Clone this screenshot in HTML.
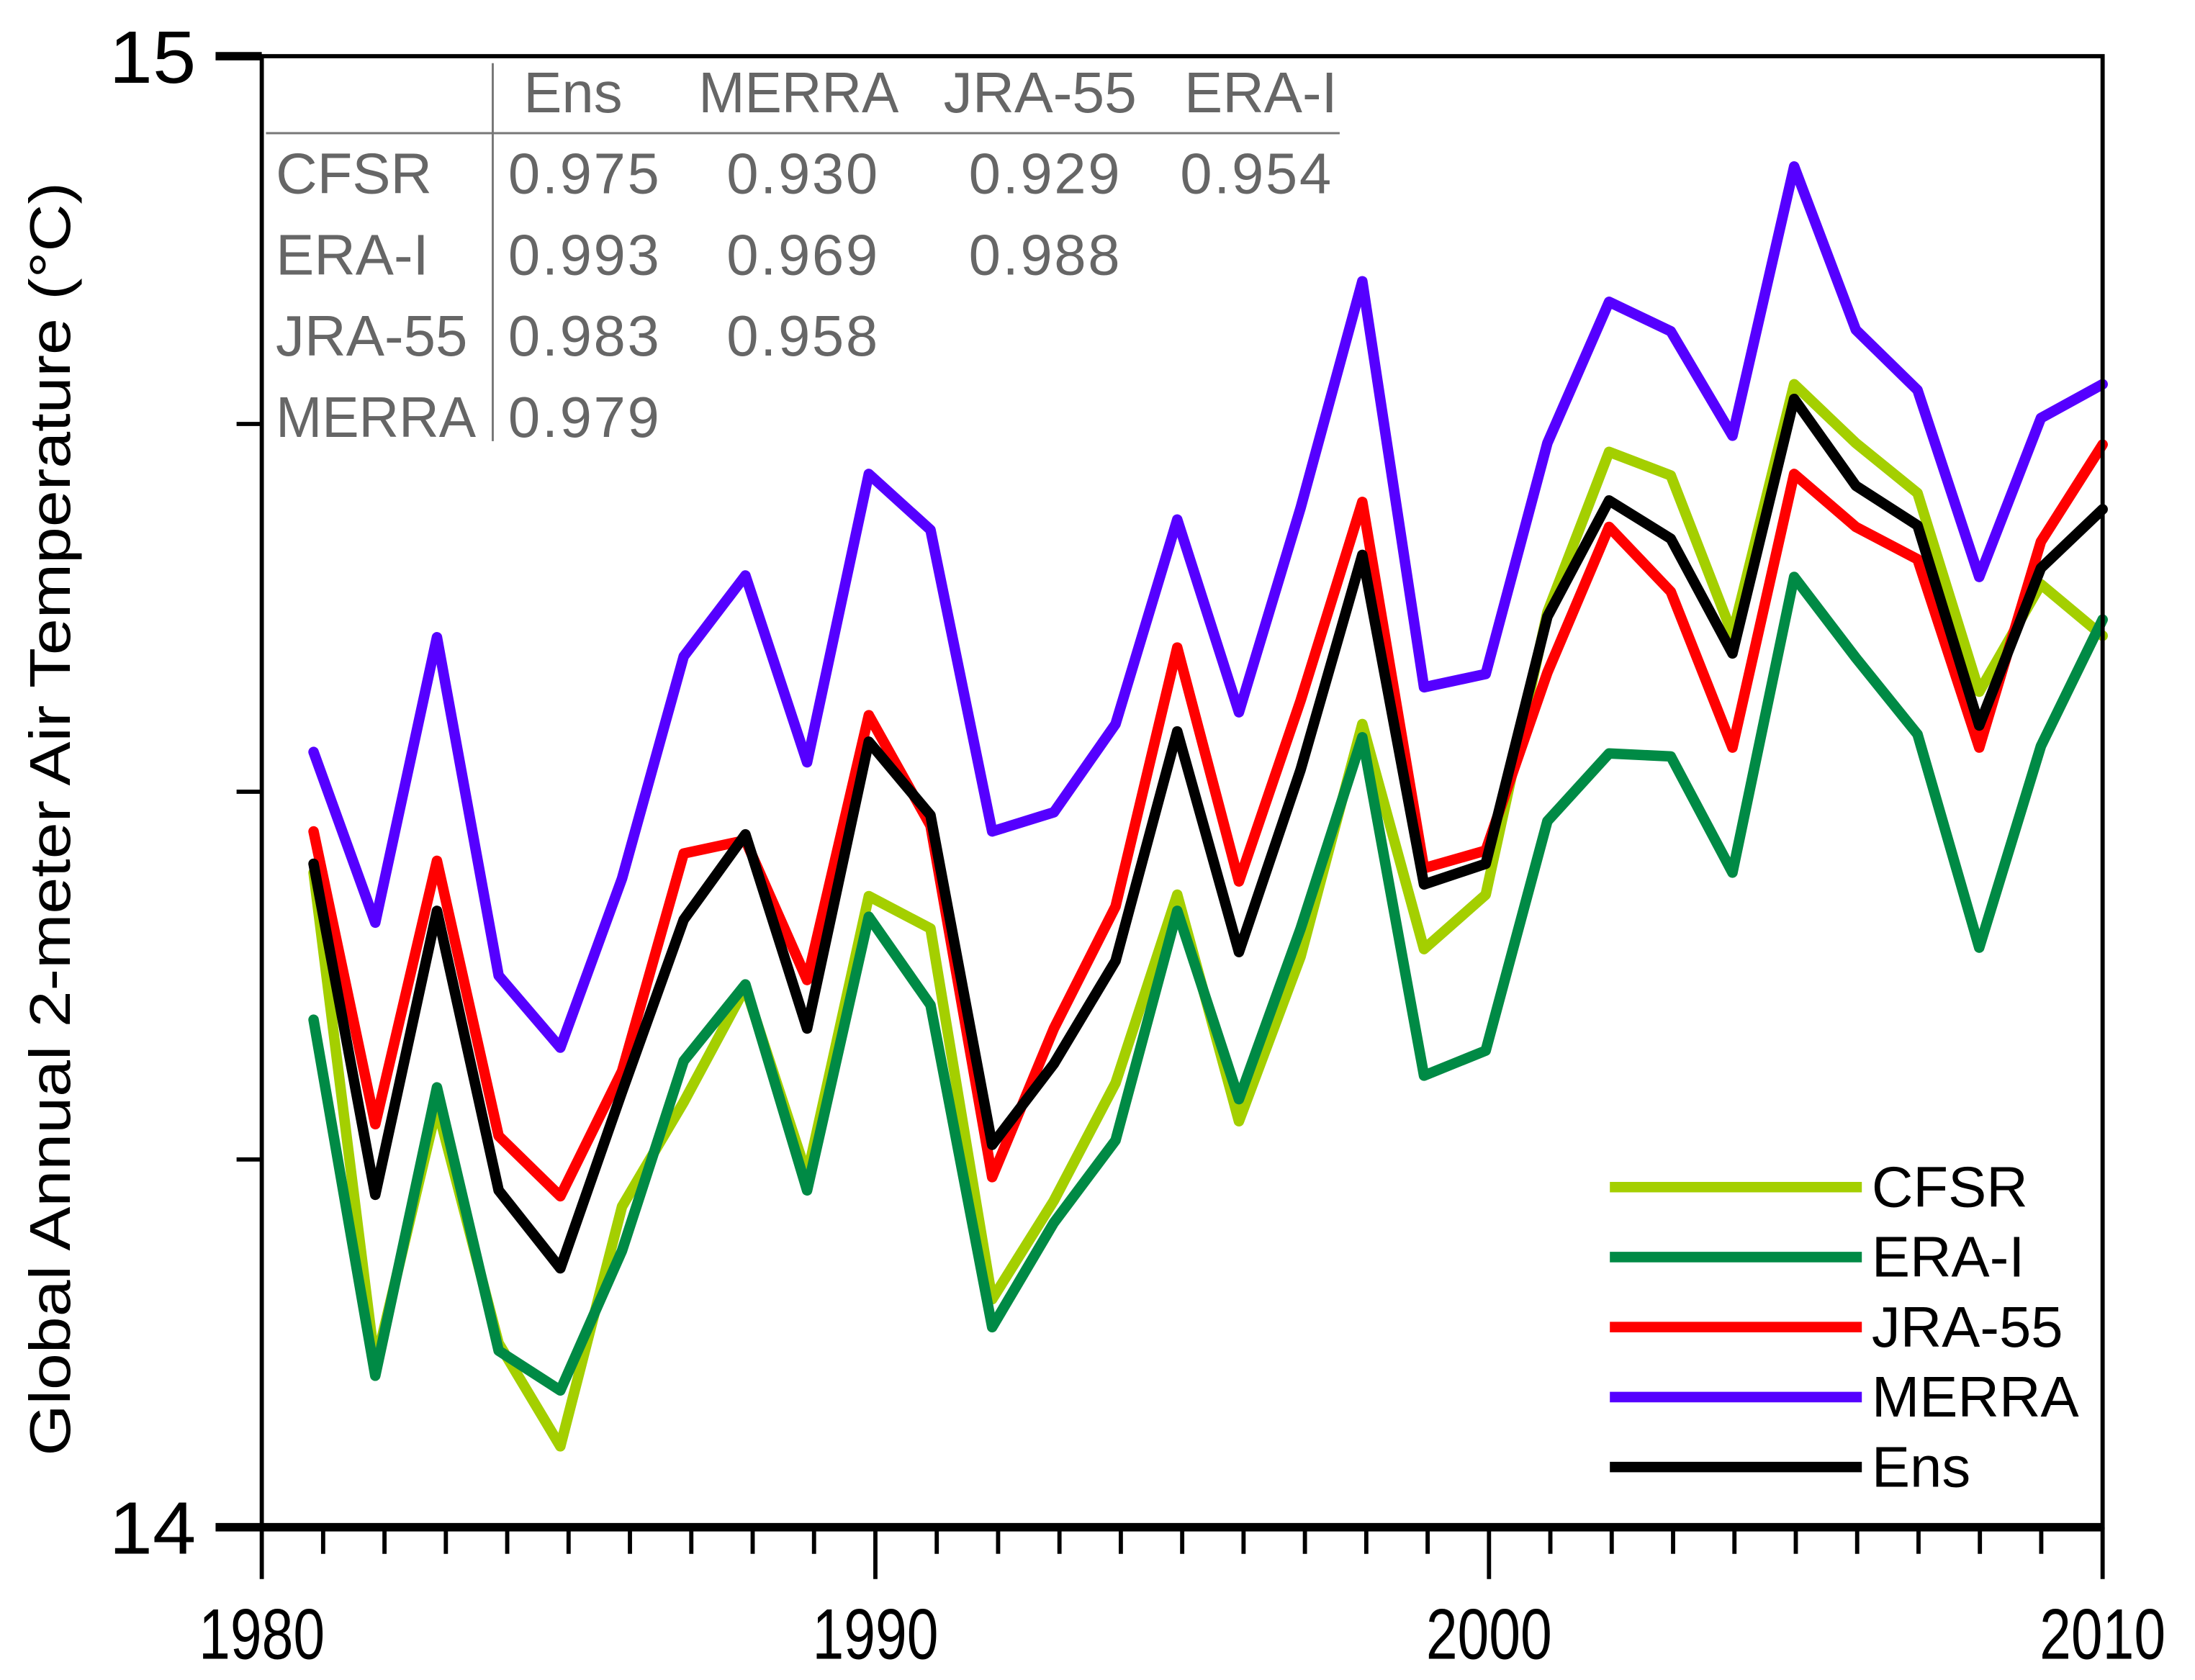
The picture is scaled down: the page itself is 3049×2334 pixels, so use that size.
<!DOCTYPE html>
<html><head><meta charset="utf-8"><style>
html,body{margin:0;padding:0;background:#fff;}
svg{display:block;}
text{font-family:"Liberation Sans","DejaVu Sans",sans-serif;}
</style></head><body>
<svg id="chart" width="3049" height="2334" viewBox="0 0 1568 1200" xmlns="http://www.w3.org/2000/svg">
<g id="table" fill="#666" font-size="41">
  <line x1="352" y1="45" x2="352" y2="315" stroke="#777" stroke-width="1.5"/>
  <line x1="190" y1="95" x2="957" y2="95" stroke="#777" stroke-width="1.5"/>
  <text x="374" y="80">Ens</text><text x="499" y="80" textLength="143" lengthAdjust="spacingAndGlyphs">MERRA</text><text x="674" y="80" textLength="138" lengthAdjust="spacingAndGlyphs">JRA-55</text><text x="846" y="80">ERA-I</text>
  <text x="197" y="138">CFSR</text><text x="363" y="138" textLength="108">0.975</text><text x="519" y="138" textLength="108">0.930</text><text x="692" y="138" textLength="108">0.929</text><text x="843" y="138" textLength="108">0.954</text>
  <text x="197" y="196">ERA-I</text><text x="363" y="196" textLength="108">0.993</text><text x="519" y="196" textLength="108">0.969</text><text x="692" y="196" textLength="108">0.988</text>
  <text x="197" y="254" textLength="137" lengthAdjust="spacingAndGlyphs">JRA-55</text><text x="363" y="254" textLength="108">0.983</text><text x="519" y="254" textLength="108">0.958</text>
  <text x="197" y="312" textLength="143" lengthAdjust="spacingAndGlyphs">MERRA</text><text x="363" y="312" textLength="108">0.979</text>
</g>
<g id="series"></g>
<g id="axes"></g>
<text transform="translate(50,585) rotate(-90)" text-anchor="middle" font-size="41" textLength="910" lengthAdjust="spacingAndGlyphs">Global Annual 2-meter Air Temperature (°C)</text>
<g id="legend"></g>
</svg>
<script>
const years = [1981,1982,1983,1984,1985,1986,1987,1988,1989,1990,1991,1992,1993,1994,1995,1996,1997,1998,1999,2000,2001,2002,2003,2004,2005,2006,2007,2008,2009,2010];
const cfsr = [14.445,14.110,14.286,14.125,14.055,14.218,14.289,14.367,14.239,14.429,14.407,14.155,14.222,14.302,14.430,14.276,14.388,14.546,14.393,14.430,14.622,14.731,14.715,14.607,14.777,14.737,14.703,14.568,14.641,14.606];
const erai = [14.345,14.103,14.299,14.120,14.093,14.188,14.317,14.369,14.229,14.415,14.355,14.136,14.207,14.263,14.419,14.291,14.407,14.537,14.307,14.324,14.480,14.526,14.524,14.445,14.646,14.591,14.539,14.394,14.531,14.617];
const jra55 = [14.473,14.274,14.453,14.266,14.225,14.310,14.458,14.467,14.372,14.552,14.477,14.238,14.339,14.422,14.598,14.439,14.562,14.697,14.448,14.460,14.581,14.680,14.636,14.530,14.716,14.680,14.658,14.530,14.670,14.736];
const merra = [14.527,14.411,14.605,14.375,14.326,14.441,14.592,14.647,14.520,14.716,14.678,14.473,14.486,14.546,14.685,14.554,14.693,14.847,14.571,14.580,14.737,14.833,14.813,14.742,14.925,14.814,14.773,14.646,14.754,14.777];
const ens = [14.451,14.226,14.419,14.229,14.176,14.296,14.413,14.471,14.339,14.534,14.484,14.260,14.315,14.385,14.541,14.391,14.515,14.661,14.437,14.451,14.619,14.698,14.672,14.594,14.767,14.708,14.681,14.545,14.652,14.692];
const seriesNames = ["CFSR","ERA-I","JRA-55","MERRA","Ens"];
const xTickLabels = [1980,1990,2000,2010];
const yTickLabels = [14,15];

const NS="http://www.w3.org/2000/svg";
const L=187,R=1502,T=40,B=1091;
const xs=y=>L+(y-1980)*(R-L)/30;
const xd=y=>224+(y-1981)*(R-224)/29;
const ys=v=>B-(v-14)*(B-T);
function mk(tag,attrs,parent){const e=document.createElementNS(NS,tag);for(const k in attrs)e.setAttribute(k,attrs[k]);parent.appendChild(e);return e;}

const seriesData=[cfsr,erai,jra55,merra,ens];
const colors=["#a4cf00","#008a45","#ff0000","#5500ff","#000000"];
const sg=document.getElementById('series');
seriesData.forEach((d,i)=>{
  const p=mk('polyline',{points:d.map((v,j)=>xd(years[j])+','+ys(v)).join(' '),fill:'none',stroke:colors[i],'stroke-width':7.5,'stroke-linejoin':'round','stroke-linecap':'round'},sg);
  
  
});

const ax=document.getElementById('axes');
mk('rect',{x:L,y:T,width:R-L,height:B-T,fill:'none',stroke:'#000','stroke-width':3},ax);
const xb=mk('line',{x1:L,y1:B,x2:R,y2:B,stroke:'#000','stroke-width':6},ax);


for(let y=1980;y<=2010;y++){
  const major=y%10===0;
  mk('line',{x1:xs(y),y1:B,x2:xs(y),y2:B+(major?37:19),stroke:'#000','stroke-width':3},ax);
}
xTickLabels.forEach(y=>{
  const t=mk('text',{x:xs(y),y:1185,'text-anchor':'middle','font-size':51,textLength:90,lengthAdjust:'spacingAndGlyphs'},ax);
  t.textContent=y;
  
  
});
for(let v=14;v<=15.001;v+=0.25){
  const major=Math.abs(v-Math.round(v))<0.01;
  mk('line',{x1:L-(major?33:18),y1:ys(v),x2:L,y2:ys(v),stroke:'#000','stroke-width':major?6:3},ax);
}
yTickLabels.forEach(v=>{
  const t=mk('text',{x:140,y:ys(v)+19,'text-anchor':'end','font-size':53,textLength:62,lengthAdjust:'spacingAndGlyphs'},ax);
  t.textContent=v;
  
  
});

const lg=document.getElementById('legend');
seriesNames.forEach((n,i)=>{
  const yy=848+i*50;
  const ln=mk('line',{x1:1150,y1:yy,x2:1330,y2:yy,stroke:colors[i],'stroke-width':7.5},lg);
  
  
  const t=mk('text',{x:1337,y:yy+14,'font-size':41},lg);
  t.textContent=n;
  
  
});
</script>
</body></html>
